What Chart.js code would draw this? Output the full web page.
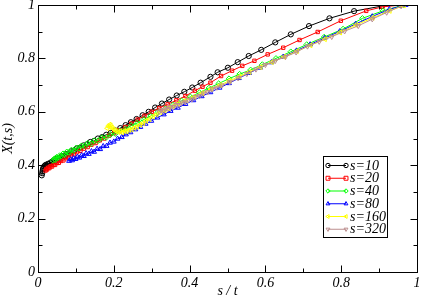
<!DOCTYPE html>
<html>
<head>
<meta charset="utf-8">
<script src="https://cdn.jsdelivr.net/npm/chart.js@4/dist/chart.umd.min.js"></script>
<style>
html,body{margin:0;padding:0;background:#fff;}
#wrap{width:422px;height:300px;position:relative;}
</style>
</head>
<body>
<div id="wrap"><canvas id="c" width="422" height="300"></canvas></div>
<script>
// ---- data ----
const seriesLabels = ['s=10','s=20','s=40','s=80','s=160','s=320'];

const x10 = [0.010,0.011,0.012,0.013,0.014,0.016,0.018,0.020,0.023,0.026,0.029,0.033,0.037,0.041,0.046,0.051,0.056,0.062,0.068,0.074,0.081,0.088,0.095,0.103,0.111,0.120,0.129,0.138,0.148,0.158,0.169,0.180,0.192,0.204,0.217,0.231,0.245,0.260,0.276,0.292,0.309,0.327,0.346,0.366,0.386,0.407,0.429,0.455,0.474,0.501,0.527,0.556,0.589,0.626,0.667,0.715,0.769,0.834,0.907,0.955];
const y10 = [0.362,0.370,0.378,0.385,0.390,0.395,0.398,0.401,0.399,0.405,0.404,0.410,0.412,0.418,0.417,0.425,0.427,0.433,0.434,0.441,0.444,0.452,0.455,0.463,0.466,0.474,0.478,0.487,0.491,0.500,0.505,0.514,0.521,0.530,0.539,0.550,0.561,0.573,0.587,0.600,0.616,0.631,0.646,0.661,0.675,0.691,0.709,0.731,0.748,0.765,0.786,0.809,0.832,0.860,0.890,0.921,0.950,0.977,0.996,1.000];

const x20 = [0.020,0.022,0.024,0.027,0.030,0.033,0.037,0.041,0.045,0.050,0.055,0.061,0.067,0.073,0.080,0.087,0.095,0.103,0.112,0.121,0.131,0.141,0.152,0.163,0.175,0.188,0.201,0.215,0.230,0.246,0.263,0.281,0.300,0.320,0.342,0.365,0.389,0.414,0.434,0.455,0.483,0.512,0.539,0.571,0.606,0.647,0.690,0.738,0.799,0.866,0.909,0.960];
const y20 = [0.380,0.386,0.384,0.391,0.389,0.396,0.395,0.402,0.401,0.408,0.409,0.416,0.418,0.426,0.429,0.437,0.441,0.449,0.454,0.462,0.468,0.477,0.483,0.493,0.500,0.511,0.520,0.531,0.543,0.556,0.571,0.585,0.600,0.614,0.628,0.643,0.659,0.679,0.694,0.709,0.734,0.754,0.772,0.791,0.815,0.840,0.869,0.899,0.941,0.978,0.993,1.000];

const x40 = [0.040,0.043,0.046,0.049,0.053,0.057,0.061,0.066,0.071,0.076,0.082,0.088,0.094,0.101,0.108,0.115,0.123,0.131,0.140,0.149,0.159,0.169,0.180,0.192,0.204,0.217,0.231,0.246,0.262,0.279,0.297,0.316,0.336,0.357,0.379,0.402,0.426,0.451,0.477,0.504,0.532,0.561,0.592,0.628,0.667,0.709,0.755,0.805,0.856,0.910,0.965];
const y40 = [0.418,0.424,0.421,0.430,0.428,0.436,0.434,0.443,0.440,0.450,0.448,0.457,0.455,0.465,0.463,0.473,0.472,0.482,0.481,0.492,0.492,0.503,0.504,0.515,0.518,0.529,0.536,0.548,0.558,0.571,0.584,0.598,0.612,0.626,0.641,0.656,0.672,0.689,0.706,0.724,0.741,0.757,0.777,0.800,0.825,0.852,0.880,0.910,0.950,0.978,1.000];

const x80 = [0.082,0.086,0.090,0.094,0.099,0.104,0.109,0.115,0.121,0.127,0.134,0.141,0.148,0.156,0.164,0.172,0.181,0.190,0.200,0.210,0.221,0.232,0.244,0.257,0.270,0.284,0.299,0.315,0.332,0.350,0.369,0.389,0.410,0.432,0.455,0.479,0.504,0.530,0.557,0.586,0.616,0.647,0.682,0.718,0.756,0.796,0.838,0.882,0.927,0.970];
const y80 = [0.416,0.422,0.418,0.426,0.423,0.431,0.428,0.437,0.434,0.444,0.442,0.452,0.450,0.461,0.460,0.471,0.472,0.484,0.488,0.499,0.505,0.515,0.523,0.534,0.543,0.555,0.566,0.578,0.590,0.603,0.615,0.629,0.643,0.658,0.673,0.690,0.707,0.726,0.745,0.765,0.785,0.806,0.829,0.852,0.876,0.901,0.929,0.957,0.984,1.000];

const x160 = [0.183,0.186,0.189,0.192,0.195,0.199,0.203,0.207,0.212,0.217,0.222,0.228,0.234,0.240,0.247,0.254,0.261,0.269,0.277,0.285,0.294,0.303,0.313,0.323,0.334,0.345,0.357,0.370,0.390,0.411,0.433,0.456,0.480,0.505,0.531,0.558,0.587,0.617,0.649,0.683,0.719,0.757,0.797,0.839,0.883,0.928,0.965];
const y160 = [0.538,0.546,0.552,0.548,0.541,0.535,0.531,0.527,0.524,0.526,0.523,0.528,0.527,0.532,0.534,0.540,0.544,0.552,0.557,0.566,0.572,0.582,0.590,0.598,0.605,0.613,0.621,0.630,0.643,0.656,0.670,0.685,0.700,0.716,0.732,0.749,0.767,0.786,0.806,0.827,0.849,0.872,0.897,0.925,0.952,0.978,0.998];

const x320 = [0.320,0.325,0.331,0.337,0.343,0.350,0.357,0.364,0.372,0.380,0.388,0.397,0.406,0.416,0.426,0.437,0.448,0.460,0.472,0.485,0.506,0.528,0.551,0.575,0.600,0.626,0.653,0.681,0.711,0.742,0.775,0.809,0.845,0.882,0.920,0.958];
const y320 = [0.600,0.606,0.604,0.612,0.611,0.619,0.618,0.626,0.626,0.635,0.636,0.645,0.647,0.656,0.660,0.669,0.674,0.685,0.691,0.699,0.711,0.726,0.742,0.759,0.776,0.791,0.806,0.823,0.845,0.863,0.881,0.902,0.922,0.947,0.972,0.996];

const xTickValues = [0,0.2,0.4,0.6,0.8,1];
const xTickLabels = ['0','0.2','0.4','0.6','0.8','1'];
const yTickValues = [0,0.2,0.4,0.6,0.8,1];
const yTickLabels = ['0','0.2','0.4','0.6','0.8','1'];
const xMinorTicks = [0.1,0.3,0.5,0.7,0.9];
const yMinorTicks = [0.1,0.3,0.5,0.7,0.9];

// ---- styles ----
const colors = ['#000000','#ff0000','#00ff00','#0000ff','#ffff00','#bc8f8f'];
const styles = ['circle','rect','rectRot','triangle','triangle','triangle'];
const rotations = [0,0,0,0,-90,180];
const radii = [2.6,2.4,2.8,2.8,2.8,2.8];
const xs = [x10,x20,x40,x80,x160,x320];
const ys = [y10,y20,y40,y80,y160,y320];

const FONT = '"Liberation Serif","Times New Roman",serif';

const datasets = seriesLabels.map((lab,i)=>({
  label: lab,
  data: xs[i].map((v,j)=>({x:v,y:ys[i][j]})),
  showLine: true,
  borderColor: colors[i],
  borderWidth: 1,
  pointStyle: styles[i],
  rotation: rotations[i],
  pointRadius: radii[i],
  pointBorderWidth: 1,
  pointBorderColor: colors[i],
  pointBackgroundColor: 'rgba(0,0,0,0)',
  order: 6 - i
}));

function drawMarker(ctx, style, rot, x, y, r, color){
  ctx.save();
  ctx.translate(x,y);
  ctx.rotate(rot*Math.PI/180);
  ctx.strokeStyle = color; ctx.lineWidth = 1;
  ctx.beginPath();
  if (style==='circle'){ ctx.arc(0,0,r,0,Math.PI*2); }
  else if (style==='rect'){ const s=r*0.9; ctx.rect(-s,-s,2*s,2*s); }
  else if (style==='rectRot'){ ctx.moveTo(0,-r);ctx.lineTo(r,0);ctx.lineTo(0,r);ctx.lineTo(-r,0);ctx.closePath(); }
  else { ctx.moveTo(0,-r);ctx.lineTo(r*0.87,r*0.5);ctx.lineTo(-r*0.87,r*0.5);ctx.closePath(); }
  ctx.stroke();
  ctx.restore();
}

const framePlugin = {
  id:'frame',
  afterDraw(chart){
    const ctx = chart.ctx, a = chart.chartArea;
    const xs_ = chart.scales.x, ys_ = chart.scales.y;
    ctx.save();
    ctx.strokeStyle = '#000'; ctx.lineWidth = 1;
    const L = Math.round(a.left)+0.5, R = Math.round(a.right)+0.5, T = Math.round(a.top)+0.5, B = Math.round(a.bottom)+0.5;
    ctx.strokeRect(L, T, R-L, B-T);
    ctx.beginPath();
    const tk = (vals, len) => {
      vals.forEach(v=>{
        const px = Math.round(xs_.getPixelForValue(v))+0.5;
        ctx.moveTo(px,B); ctx.lineTo(px,B-len);
        ctx.moveTo(px,T); ctx.lineTo(px,T+len);
      });
    };
    const tky = (vals, len) => {
      vals.forEach(v=>{
        const py = Math.round(ys_.getPixelForValue(v))+0.5;
        ctx.moveTo(L,py); ctx.lineTo(L+len,py);
        ctx.moveTo(R,py); ctx.lineTo(R-len,py);
      });
    };
    tk(xTickValues,7); tk(xMinorTicks,4);
    tky(yTickValues,7); tky(yMinorTicks,4);
    ctx.stroke();

    // legend
    const bx=323.5, by=156.5, bw=64, bh=81;
    ctx.fillStyle='#fff'; ctx.fillRect(bx,by,bw,bh);
    ctx.strokeStyle='#000'; ctx.lineWidth=1; ctx.strokeRect(bx,by,bw,bh);
    ctx.font = 'italic 14px '+FONT;
    ctx.textBaseline='middle'; ctx.textAlign='left';
    chart.data.datasets.forEach((ds,i)=>{
      const yy = 165.5 + i*12.75;
      ctx.strokeStyle = ds.borderColor; ctx.lineWidth=1;
      ctx.beginPath(); ctx.moveTo(328,yy); ctx.lineTo(346,yy); ctx.stroke();
      drawMarker(ctx, styles[i], rotations[i], 328, yy, 2.2, ds.borderColor);
      drawMarker(ctx, styles[i], rotations[i], 346, yy, 2.2, ds.borderColor);
      ctx.fillStyle='#000';
      ctx.fillText(ds.label, 350, yy+0.5);
    });
    ctx.restore();
  }
};

new Chart(document.getElementById('c'), {
  type:'scatter',
  data:{datasets},
  options:{
    responsive:false,
    animation:false,
    devicePixelRatio:1,
    layout:{padding:{top:5,right:4,left:0,bottom:0}},
    plugins:{legend:{display:false},tooltip:{enabled:false}},
    scales:{
      x:{
        type:'linear', min:0, max:1,
        grid:{display:false, drawTicks:false},
        border:{display:false},
        afterBuildTicks(s){ s.ticks = xTickValues.map(v=>({value:v})); },
        afterFit(s){ s.height = 28; s.paddingLeft=0; s.paddingRight=0; },
        ticks:{ padding:3, color:'#000', font:{family:FONT, size:14, style:'italic'}, maxRotation:0,
          callback:(v,i)=>xTickLabels[i] },
        title:{display:true, text:'s / t', color:'#000', padding:{top:0,bottom:0}, font:{family:FONT,size:14,style:'italic'}}
      },
      y:{
        type:'linear', min:0, max:1,
        grid:{display:false, drawTicks:false},
        border:{display:false},
        afterBuildTicks(s){ s.ticks = yTickValues.map(v=>({value:v})); },
        afterFit(s){ s.width = 38; s.paddingTop=0; s.paddingBottom=0; },
        ticks:{ padding:3, color:'#000', font:{family:FONT, size:14, style:'italic'},
          callback:(v,i)=>yTickLabels[i] },
        title:{display:true, text:'X(t,s)', color:'#000', padding:{top:0,bottom:0}, font:{family:FONT,size:14,style:'italic'}}
      }
    }
  },
  plugins:[framePlugin]
});
</script>
</body>
</html>
